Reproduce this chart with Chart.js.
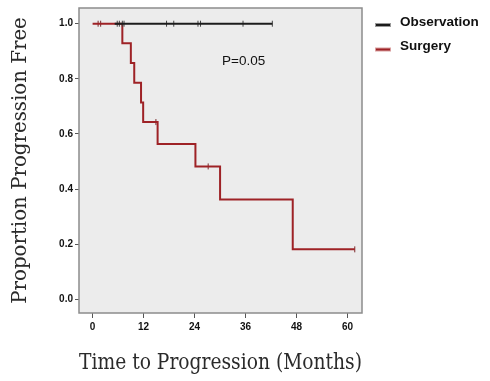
<!DOCTYPE html>
<html>
<head>
<meta charset="utf-8">
<script src="https://cdn.jsdelivr.net/npm/chart.js@4/dist/chart.umd.min.js"></script>
<style>
  html, body { margin: 0; padding: 0; background: #fff; }
  #wrap { width: 490px; height: 381px; }
</style>
</head>
<body>
<div id="wrap"><canvas id="myChart" width="490" height="381"></canvas></div>
<script>
// Kaplan-Meier steps (time in months, proportion free)
var obsTimes = [5.2, 42.3];
var obsValues = [1.0, 1.0];
var obsCensorTimes = [5.8, 6.3, 7.0, 7.4, 17.4, 19.1, 24.8, 25.4, 35.4, 42.3];

var surgTimes = [0, 7.0, 9.0, 9.8, 11.4, 11.9, 15.3, 24.2, 30.0, 47.1, 61.7];
var surgValues = [1.0, 0.929, 0.857, 0.786, 0.714, 0.643, 0.563, 0.482, 0.362, 0.181, 0.181];
var surgCensorTimes = [1.3, 1.9, 14.9, 27.2, 61.7];
var surgCensorValues = [1.0, 1.0, 0.643, 0.482, 0.181];

var xTicks = [0, 12, 24, 36, 48, 60];
var yTicks = [0.0, 0.2, 0.4, 0.6, 0.8, 1.0];
var seriesNames = ['Observation', 'Surgery'];
var pValueText = 'P=0.05';

var black = '#1c1c1c';
var red = '#9e2226';

function pts(xs, ys) {
    return xs.map(function (x, i) { return { x: x, y: ys[i] }; });
}

var kmDecor = {
    id: 'kmDecor',
    beforeDraw: function (chart) {
        var a = chart.chartArea, c = chart.ctx;
        c.save();
        c.fillStyle = '#ececec';
        c.fillRect(a.left, a.top, a.right - a.left, a.bottom - a.top);
        c.restore();
    },
    afterDraw: function (chart) {
        var a = chart.chartArea, c = chart.ctx;
        c.save();
        c.strokeStyle = '#8c8c8c';
        c.lineWidth = 1.5;
        c.strokeRect(a.left, a.top, a.right - a.left, a.bottom - a.top);

        // p value
        c.fillStyle = '#111';
        c.font = '13.5px "Liberation Sans", Arial, sans-serif';
        c.textBaseline = 'middle';
        c.textAlign = 'left';
        c.fillText(pValueText, 222, 61);

        // legend
        var cols = [black, red], edge = ['#9a9a9a', '#d9a0a0'];
        c.font = 'bold 13.5px "Liberation Sans", Arial, sans-serif';
        for (var i = 0; i < seriesNames.length; i++) {
            var y = 22 + i * 24.5;
            c.fillStyle = edge[i];
            c.fillRect(375, y + 1, 16, 4);
            c.fillStyle = cols[i];
            c.fillRect(376, y + 2, 14, 2);
            c.fillStyle = '#111';
            c.fillText(seriesNames[i], 400, y);
        }
        c.restore();
    }
};

var ctx = document.getElementById('myChart').getContext('2d');
var myChart = new Chart(ctx, {
    type: 'line',
    data: {
        datasets: [{
            label: seriesNames[0],
            data: pts(obsTimes, obsValues),
            borderColor: black,
            borderWidth: 2,
            stepped: true,
            pointRadius: 0
        }, {
            label: seriesNames[0] + ' censored',
            data: obsCensorTimes.map(function (t) { return { x: t, y: 1.0 }; }),
            showLine: false,
            pointStyle: 'line',
            rotation: 90,
            pointRadius: 3,
            borderWidth: 1,
            borderColor: '#444'
        }, {
            label: seriesNames[1],
            data: pts(surgTimes, surgValues),
            borderColor: red,
            borderWidth: 2,
            stepped: true,
            pointRadius: 0
        }, {
            label: seriesNames[1] + ' censored',
            data: pts(surgCensorTimes, surgCensorValues),
            showLine: false,
            pointStyle: 'line',
            rotation: 90,
            pointRadius: 3,
            borderWidth: 1,
            borderColor: '#7a2a2c'
        }]
    },
    options: {
        responsive: false,
        animation: false,
        layout: { padding: { left: 0, top: 4, right: 128, bottom: 5 } },
        plugins: {
            legend: { display: false },
            tooltip: { enabled: false }
        },
        scales: {
            x: {
                type: 'linear',
                min: -3.2,
                max: 63.4,
                afterBuildTicks: function (s) { s.ticks = xTicks.map(function (v) { return { value: v }; }); },
                afterFit: function (s) { s.height = 381 - 313 - 5; },
                grid: { drawOnChartArea: false, drawTicks: true, tickLength: 5, color: '#555' },
                border: { display: false },
                ticks: {
                    padding: 3,
                    color: '#111',
                    font: { family: '"Liberation Sans", Arial, sans-serif', size: 10, weight: 'bold' }
                },
                title: {
                    display: true,
                    text: 'Time to Progression (Months)',
                    color: '#2a2a2a',
                    padding: { top: 0, bottom: 0 },
                    font: { family: '"DejaVu Serif", serif', size: 21.5 }
                }
            },
            y: {
                type: 'linear',
                min: -0.05,
                max: 1.057,
                afterBuildTicks: function (s) { s.ticks = yTicks.map(function (v) { return { value: v }; }); },
                afterFit: function (s) { s.width = 79; },
                grid: { drawOnChartArea: false, drawTicks: true, tickLength: 4, color: '#555' },
                border: { display: false },
                ticks: {
                    padding: 2,
                    color: '#111',
                    callback: function (v) { return v.toFixed(1); },
                    font: { family: '"Liberation Sans", Arial, sans-serif', size: 10, weight: 'bold' }
                },
                title: {
                    display: true,
                    text: 'Proportion Progression Free',
                    color: '#2a2a2a',
                    padding: { top: 9, bottom: 0 },
                    font: { family: '"DejaVu Serif", serif', size: 19.8 }
                }
            }
        }
    },
    plugins: [kmDecor]
});
</script>
</body>
</html>
